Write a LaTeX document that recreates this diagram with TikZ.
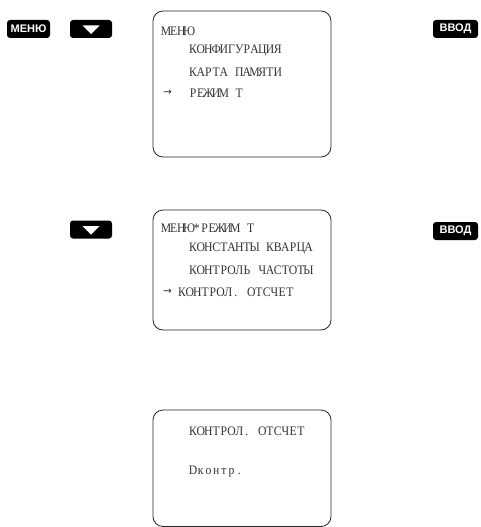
\documentclass[tikz,border=0pt]{standalone}
\usepackage{fontspec}
\usetikzlibrary{calc}
\setmainfont{Liberation Serif}[FakeStretch=0.9]
\newfontfamily\btnfont{Liberation Sans}
\newfontfamily\arrfont{DejaVu Sans}
\makeatletter
\def\monotext#1{\mono@loop#1\relax}
\def\mono@loop#1{\ifx#1\relax\else\makebox[7.7pt]{#1}\expandafter\mono@loop\fi}
\makeatother
\begin{document}
\begin{tikzpicture}[x=1pt,y=-1pt,
  screen/.style={draw=black!85,line width=0.8pt,rounded corners=10pt},
  key/.style={fill=black,rounded corners=3pt,text=white,inner sep=0pt,font=\btnfont\bfseries\fontsize{11}{11}\selectfont},
  lcd/.style={anchor=west,inner sep=0pt,text=black!80,font=\fontsize{13}{13}\selectfont},
  arr/.style={anchor=west,inner sep=0pt,text=black!80,font=\arrfont\fontsize{10.5}{10.5}\selectfont}]
\useasboundingbox (0,0) rectangle (481,527);
% buttons
\node[key,minimum width=43pt,minimum height=18pt] (menu) at (28.5,29) {МЕНЮ};
\node[key,minimum width=42pt,minimum height=18pt] (down1) at (91,29) {};
\fill[white] ($(down1)+(-8.5,-3.5)$) -- ($(down1)+(8.5,-3.5)$) -- ($(down1)+(0,5)$) -- cycle;
\node[key,minimum width=45pt,minimum height=18pt] (enter1) at (455.5,29) {ВВОД};
\node[key,minimum width=42pt,minimum height=18pt] (down2) at (91,229.5) {};
\fill[white] ($(down2)+(-8.5,-3.5)$) -- ($(down2)+(8.5,-3.5)$) -- ($(down2)+(0,5)$) -- cycle;
\node[key,minimum width=45pt,minimum height=18pt] (enter2) at (455.5,231) {ВВОД};
% screens
\draw[screen] (153,11) rectangle (331,157);
\node[lcd] (m1) at (162,31) {\monotext{МЕНЮ}};
\node[lcd] (m2) at (189,51) {\monotext{КОНФИГУРАЦИЯ}};
\node[lcd] (m3) at (189,72) {\monotext{КАРТА~ПАМЯТИ}};
\node[arr] (m4a) at (163,93) {→};
\node[lcd] (m4) at (189,93) {\monotext{РЕЖИМ~Т}};
\draw[screen] (153,210) rectangle (331,330);
\node[lcd] (r1) at (162,228) {\monotext{МЕНЮ*РЕЖИМ~Т}};
\node[lcd] (r2) at (189,249) {\monotext{КОНСТАНТЫ~КВАРЦА}};
\node[lcd] (r3) at (189,270) {\monotext{КОНТРОЛЬ~ЧАСТОТЫ}};
\node[arr] (r4a) at (163,292) {→};
\node[lcd] (r4) at (178,292) {\monotext{КОНТРОЛ.~ОТСЧЕТ}};
\draw[screen] (153,410) rectangle (331,526.5);
\node[lcd] (c1) at (189,431) {\monotext{КОНТРОЛ.~ОТСЧЕТ}};
\node[lcd] (c2) at (189,472) {\monotext{Dконтр.}};
\end{tikzpicture}
\end{document}
